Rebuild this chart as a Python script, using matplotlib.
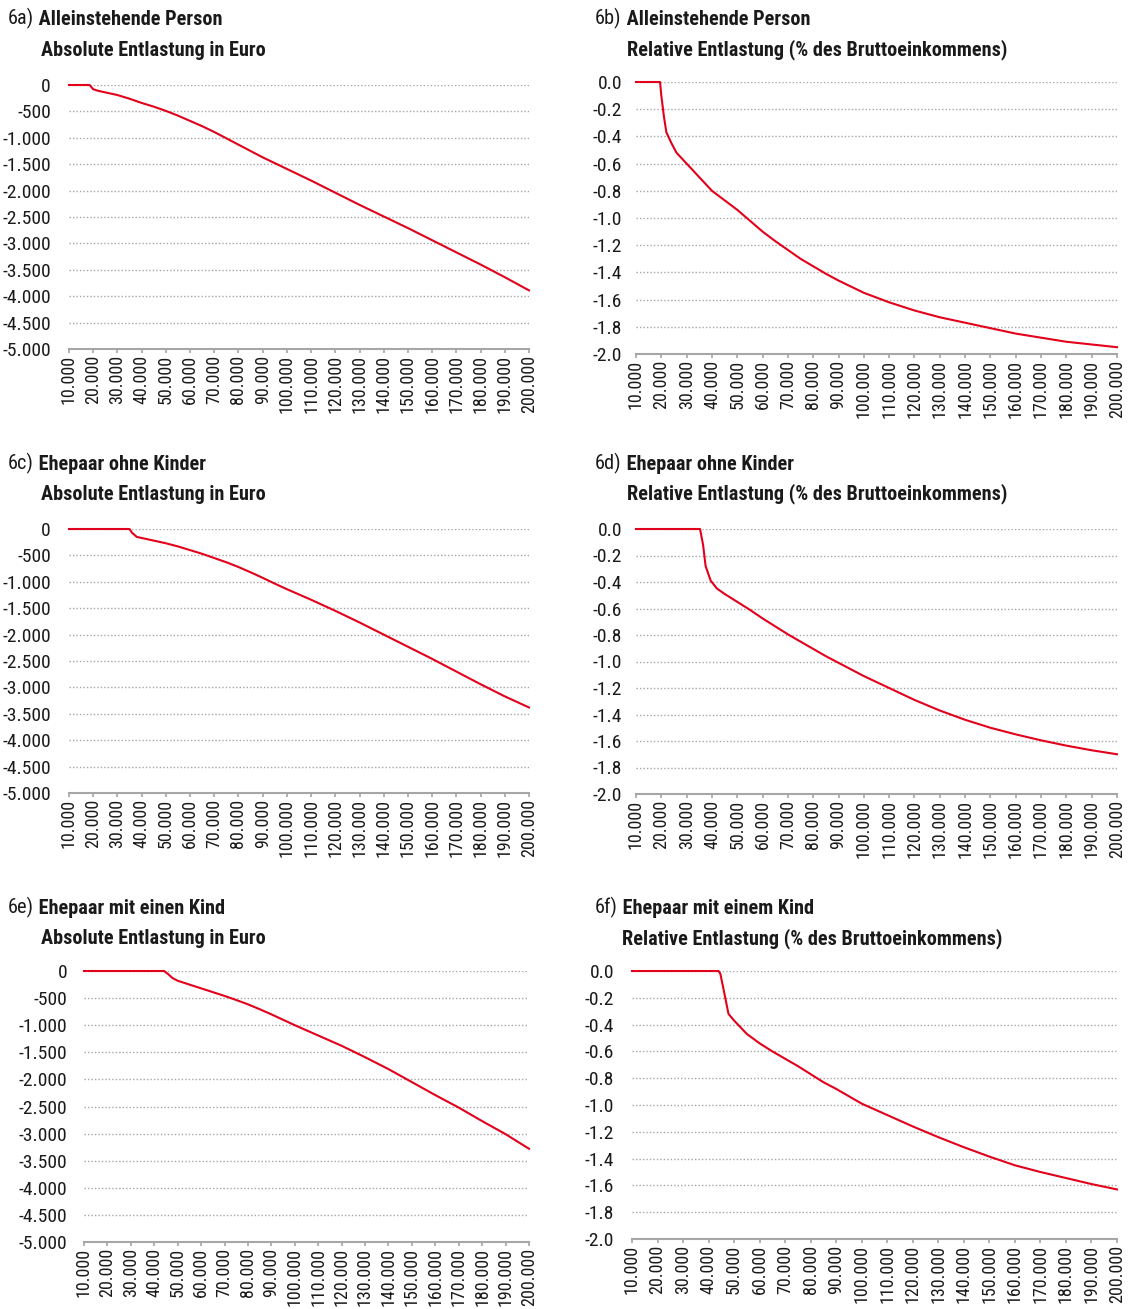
import matplotlib
matplotlib.use('Agg')
import matplotlib.pyplot as plt
from matplotlib import font_manager as fm

W, H = 1132, 1309
DPI = 100

names = {f.name for f in fm.fontManager.ttflist}
if 'Liberation Sans Narrow' in names:
    FONT, STRETCH = 'Liberation Sans Narrow', 'normal'
elif 'Roboto Condensed' in names:
    FONT, STRETCH = 'Roboto Condensed', 'normal'
else:
    FONT, STRETCH = 'DejaVu Sans', 'condensed'
plt.rcParams['font.family'] = [FONT, 'DejaVu Sans']
plt.rcParams['font.stretch'] = STRETCH

# ---------------- data ----------------
a_x = [10000, 18500, 20000, 22000, 25000, 30000, 35000, 40000, 45000, 50000, 55000, 60000,
       65000, 70000, 75000, 80000, 85000, 90000, 95000, 100000, 110000, 120000, 130000,
       140000, 150000, 160000, 170000, 180000, 190000, 200000]
a_y = [0, 0, -80, -110, -140, -190, -260, -340, -410, -490, -580, -680, -780, -890, -1010,
       -1130, -1250, -1370, -1480, -1590, -1810, -2040, -2270, -2490, -2710, -2940, -3170,
       -3400, -3640, -3890]

b_x = [10000, 19500, 20000, 21000, 22000, 24000, 26000, 28000, 30000, 35000, 40000, 45000,
       50000, 55000, 60000, 65000, 70000, 75000, 80000, 85000, 90000, 95000, 100000, 110000,
       120000, 130000, 140000, 150000, 160000, 170000, 180000, 190000, 200000]
b_y = [0, 0, -0.10, -0.25, -0.37, -0.45, -0.52, -0.56, -0.60, -0.70, -0.80, -0.87, -0.94,
       -1.02, -1.10, -1.17, -1.235, -1.30, -1.355, -1.41, -1.46, -1.505, -1.55, -1.62, -1.68,
       -1.73, -1.77, -1.81, -1.85, -1.88, -1.91, -1.93, -1.95]

c_x = [10000, 35000, 36000, 38000, 40000, 45000, 50000, 55000, 60000, 65000, 70000, 75000,
       80000, 85000, 90000, 95000, 100000, 110000, 120000, 130000, 140000, 150000, 160000,
       170000, 180000, 190000, 200000]
c_y = [0, 0, -70, -150, -170, -220, -270, -330, -400, -470, -550, -630, -720, -820, -925,
       -1035, -1140, -1340, -1550, -1770, -2000, -2230, -2460, -2700, -2940, -3170, -3380]

d_x = [10000, 35300, 36500, 37500, 39500, 42000, 45000, 50000, 55000, 60000, 65000, 70000,
       75000, 80000, 85000, 90000, 95000, 100000, 110000, 120000, 130000, 140000, 150000,
       160000, 170000, 180000, 190000, 200000]
d_y = [0, 0, -0.12, -0.28, -0.39, -0.45, -0.49, -0.55, -0.61, -0.675, -0.735, -0.795,
       -0.85, -0.905, -0.96, -1.01, -1.06, -1.11, -1.20, -1.29, -1.37, -1.44, -1.50, -1.55,
       -1.595, -1.635, -1.67, -1.70]

e_x = [10000, 44200, 46000, 47800, 50000, 55000, 60000, 65000, 70000, 75000, 80000, 85000,
       90000, 95000, 100000, 110000, 120000, 130000, 140000, 150000, 160000, 170000, 180000,
       190000, 200000]
e_y = [0, 0, -60, -130, -180, -250, -320, -390, -460, -535, -615, -705, -800, -900, -1000,
       -1190, -1380, -1590, -1810, -2050, -2290, -2520, -2770, -3010, -3280]

f_x = [10000, 43900, 44600, 45900, 47800, 50000, 55000, 60000, 65000, 70000, 75000, 80000,
       85000, 90000, 95000, 100000, 110000, 120000, 130000, 140000, 150000, 160000, 170000,
       180000, 190000, 200000]
f_y = [0, 0, -0.02, -0.14, -0.32, -0.37, -0.47, -0.54, -0.60, -0.655, -0.71, -0.77, -0.83,
       -0.88, -0.935, -0.99, -1.075, -1.16, -1.24, -1.315, -1.385, -1.45, -1.50, -1.545,
       -1.59, -1.63]

x_ticks = list(range(10000, 200001, 10000))
x_tick_labels = ['10.000', '20.000', '30.000', '40.000', '50.000', '60.000', '70.000',
                 '80.000', '90.000', '100.000', '110.000', '120.000', '130.000', '140.000',
                 '150.000', '160.000', '170.000', '180.000', '190.000', '200.000']

abs_ticks = [0, -500, -1000, -1500, -2000, -2500, -3000, -3500, -4000, -4500, -5000]
abs_labels = ['0', '-500', '-1.000', '-1.500', '-2.000', '-2.500', '-3.000', '-3.500',
              '-4.000', '-4.500', '-5.000']
rel_ticks = [0, -0.2, -0.4, -0.6, -0.8, -1.0, -1.2, -1.4, -1.6, -1.8, -2.0]
rel_labels = ['0.0', '-0.2', '-0.4', '-0.6', '-0.8', '-1.0', '-1.2', '-1.4', '-1.6', '-1.8',
              '-2.0']

tags = ['6a)', '6b)', '6c)', '6d)', '6e)', '6f)']
titles = ['Alleinstehende Person', 'Alleinstehende Person', 'Ehepaar ohne Kinder',
          'Ehepaar ohne Kinder', 'Ehepaar mit einen Kind', 'Ehepaar mit einem Kind']
subtitles = ['Absolute Entlastung in Euro', 'Relative Entlastung (% des Bruttoeinkommens)'] * 3

# ---------------- layout (pixels) ----------------
boxes = [(69, 529, 85, 349), (636, 1117, 82, 354),
         (69, 529, 529, 793), (636, 1117, 529, 794),
         (84, 529, 971, 1242), (632, 1117, 971, 1239)]
title_pos = [(8, 18, 41, 50), (595, 18, 627, 50),
             (8, 463, 41, 494), (595, 463, 627, 494),
             (8, 907, 41, 939), (595, 907, 622, 939)]
ylab_pad = [13, 10, 13, 10, 12, 13]

RED = '#E3001B'
GREY = '#A6A6A6'
FS = 14
TFS = 14.6
XFS = 13

fig = plt.figure(figsize=(W / DPI, H / DPI), dpi=DPI)

series = [(a_x, a_y), (b_x, b_y), (c_x, c_y), (d_x, d_y), (e_x, e_y), (f_x, f_y)]

for i, ((xs, ys), (l, r, t, b)) in enumerate(zip(series, boxes)):
    ax = fig.add_axes([l / W, (H - b) / H, (r - l) / W, (b - t) / H])
    is_abs = (i % 2 == 0)
    yt, yl = (abs_ticks, abs_labels) if is_abs else (rel_ticks, rel_labels)
    ax.plot(xs, ys, color=RED, lw=1.5, solid_joinstyle='round', zorder=3, clip_on=False)
    ax.set_xlim(10000, 200000)
    ax.set_ylim(yt[-1], yt[0])
    ax.set_yticks(yt)
    ax.set_yticklabels(yl)
    ax.set_xticks(x_ticks)
    ax.set_xticklabels(x_tick_labels, rotation=90)
    for s in ['top', 'right', 'left']:
        ax.spines[s].set_visible(False)
    ax.spines['bottom'].set_color(GREY)
    ax.spines['bottom'].set_linewidth(1.5)
    ax.tick_params(axis='y', length=0, pad=ylab_pad[i], labelsize=FS, labelcolor='#1a1a1a')
    ax.tick_params(axis='x', length=3, width=1.2, color=GREY, direction='out', pad=1,
                   labelsize=XFS, labelcolor='#1a1a1a')
    for yv in yt[:-1]:
        ax.axhline(yv, color=GREY, lw=1.0, ls=(0, (1, 1.5)), zorder=1)
    ax.set_facecolor('none')

    tx, ty, sx, sy = title_pos[i]
    t1 = fig.text(tx / W, 1 - ty / H, tags[i], fontsize=TFS, va='center', ha='left',
                  color='#1a1a1a')
    fig.canvas.draw()
    fig.add_artist(plt.Annotation(' ' + titles[i], xy=(1, 0), xycoords=t1, va='bottom',
                                  ha='left', fontsize=TFS, fontweight='bold',
                                  color='#1a1a1a'))
    fig.text(sx / W, 1 - sy / H, subtitles[i], fontsize=TFS, va='center', ha='left',
             fontweight='bold', color='#1a1a1a')

fig.savefig('out.png', dpi=DPI, facecolor='white')
